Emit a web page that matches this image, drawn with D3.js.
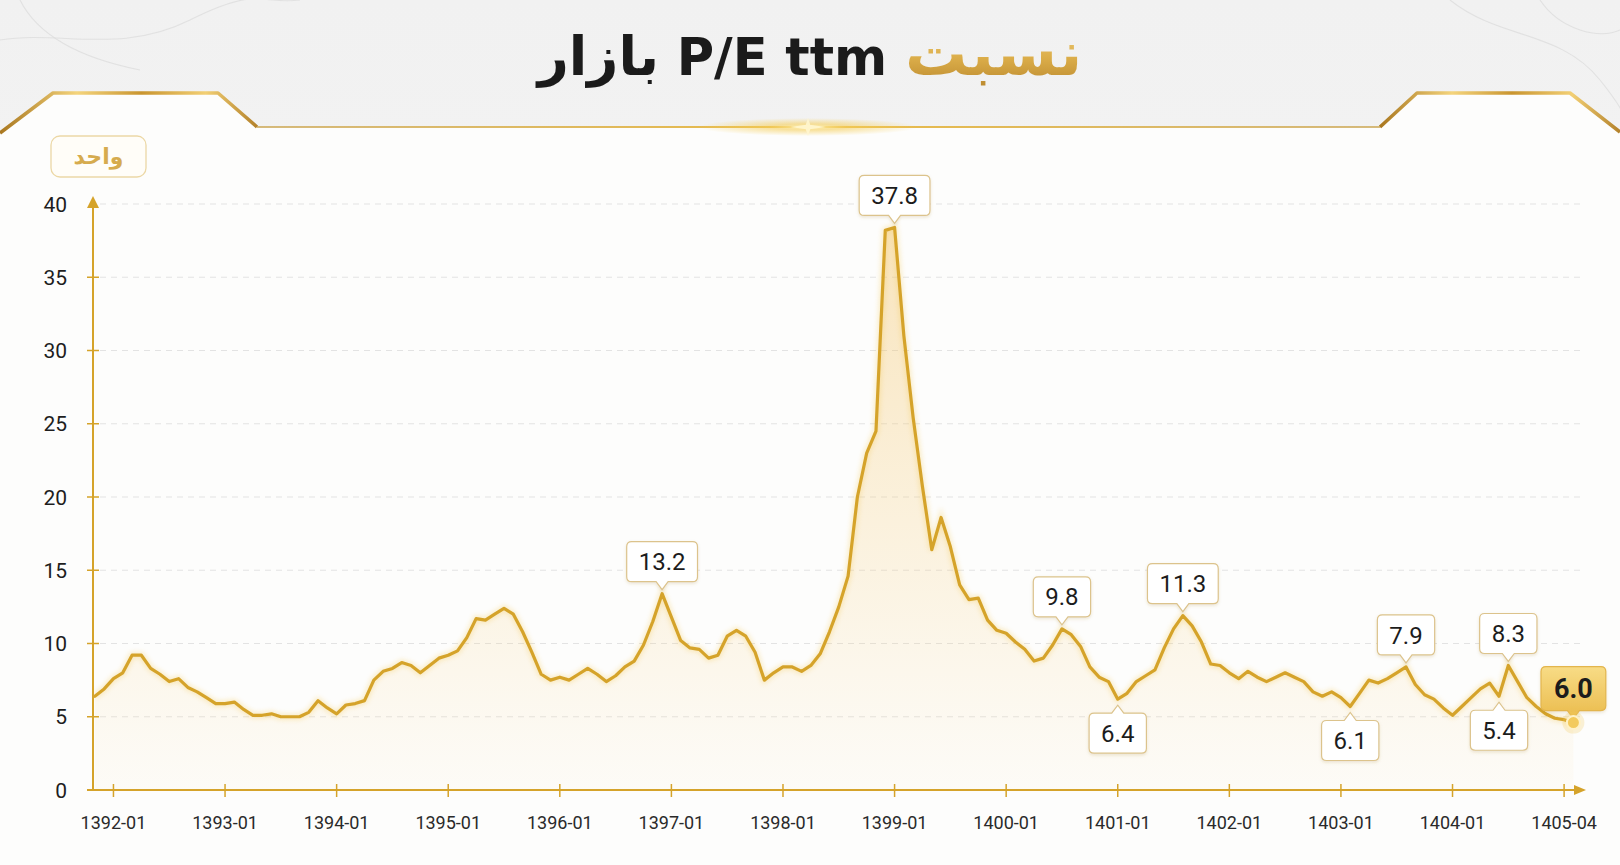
<!DOCTYPE html>
<html lang="fa">
<head>
<meta charset="utf-8">
<title>نسبت P/E ttm بازار</title>
<script src="https://cdn.jsdelivr.net/npm/d3@7"></script>
<style>
  html, body { margin: 0; padding: 0; background: #f3f3f3; }
  #wrap { position: relative; width: 1620px; height: 865px; overflow: hidden; }
  #chart { position: absolute; left: 0; top: 0; }
  #title {
    position: absolute; left: 0; top: 22px; width: 1620px;
    text-align: center; direction: rtl; white-space: nowrap;
    font-family: "DejaVu Sans", sans-serif; font-weight: 700;
    font-size: 51px; line-height: 64px; color: #1b1b1b;
  }
  #title .ar { font-size: 54px; }
  #title .gold {
    font-size: 62px;
    background: linear-gradient(180deg, #f3d78e 0%, #dcae4a 55%, #b8862c 100%);
    -webkit-background-clip: text; background-clip: text; color: transparent;
  }
</style>
</head>
<body>
<div id="wrap">
  <svg id="chart" width="1620" height="865"></svg>
  <div id="title"><span class="gold">نسبت</span> P/E ttm <span class="ar">بازار</span></div>
</div>
<script>
// monthly market P/E (ttm), first point is 1391-11
const firstMonth = '1391-11';
const peValues = [
  6.4, 6.9,                                                          // 1391
  7.6, 8.0, 9.2, 9.2, 8.3, 7.9, 7.4, 7.6, 7.0, 6.7, 6.3, 5.9,        // 1392
  5.9, 6.0, 5.5, 5.1, 5.1, 5.2, 5.0, 5.0, 5.0, 5.3, 6.1, 5.6,        // 1393
  5.2, 5.8, 5.9, 6.1, 7.5, 8.1, 8.3, 8.7, 8.5, 8.0, 8.5, 9.0,        // 1394
  9.2, 9.5, 10.4, 11.7, 11.6, 12.0, 12.4, 12.0, 10.8, 9.4, 7.9, 7.5, // 1395
  7.7, 7.5, 7.9, 8.3, 7.9, 7.4, 7.8, 8.4, 8.8, 9.9, 11.5, 13.4,      // 1396
  11.8, 10.2, 9.7, 9.6, 9.0, 9.2, 10.5, 10.9, 10.5, 9.4, 7.5, 8.0,   // 1397
  8.4, 8.4, 8.1, 8.5, 9.3, 10.8, 12.5, 14.6, 20.0, 23.0, 24.5, 38.2, // 1398
  38.4, 31.0, 25.4, 20.7, 16.4, 18.6, 16.6, 14.0, 13.0, 13.1, 11.6, 10.9, // 1399
  10.7, 10.1, 9.6, 8.8, 9.0, 9.9, 11.0, 10.6, 9.8, 8.4, 7.7, 7.4,    // 1400
  6.2, 6.6, 7.4, 7.8, 8.2, 9.7, 11.0, 11.9, 11.2, 10.1, 8.6, 8.5,    // 1401
  8.0, 7.6, 8.1, 7.7, 7.4, 7.7, 8.0, 7.7, 7.4, 6.7, 6.4, 6.7,        // 1402
  6.3, 5.7, 6.6, 7.5, 7.3, 7.6, 8.0, 8.4, 7.2, 6.5, 6.2, 5.6,        // 1403
  5.1, 5.7, 6.3, 6.9, 7.3, 6.4, 8.5, 7.4, 6.3, 5.7, 5.2, 4.9,        // 1404
  4.8, 4.6                                                           // 1405
];

const yTicks = [0, 5, 10, 15, 20, 25, 30, 35, 40];
const xTickDates = ['1392-01', '1393-01', '1394-01', '1395-01', '1396-01', '1397-01', '1398-01',
  '1399-01', '1400-01', '1401-01', '1402-01', '1403-01', '1404-01', '1405-01'];
const xTickLabels = ['1392-01', '1393-01', '1394-01', '1395-01', '1396-01', '1397-01', '1398-01',
  '1399-01', '1400-01', '1401-01', '1402-01', '1403-01', '1404-01', '1405-04'];

// value callouts as printed on the chart
const calloutDates = ['1396-12', '1399-01', '1400-07', '1401-01', '1401-08', '1403-02', '1403-08', '1404-06', '1404-07', '1405-02'];
const calloutTexts = ['13.2', '37.8', '9.8', '6.4', '11.3', '6.1', '7.9', '5.4', '8.3', '6.0'];
const calloutSides = ['up', 'up', 'up', 'down', 'up', 'down', 'up', 'down', 'up', 'last'];

const unitLabel = 'واحد';

const gold = '#d5a32a';
const monthIndex = s => { const [yy, mm] = s.split('-').map(Number); return (yy - 1392) * 12 + (mm - 1); };
const start = monthIndex(firstMonth);
const series = peValues.map((v, i) => ({ m: start + i, v }));
const byMonth = new Map(series.map(d => [d.m, d]));

const x = d3.scaleLinear().domain([-2.2, 159]).range([93, 1592]);
const y = d3.scaleLinear().domain([0, 40]).range([790, 204]);
const x0 = x(-2.2);
const xEnd = 1586;

const svg = d3.select('#chart');
const defs = svg.append('defs');

// ---- background, marble-ish top and white panel
const bg = defs.append('linearGradient').attr('id', 'bg').attr('x1', 0).attr('y1', 0).attr('x2', 0).attr('y2', 1);
bg.append('stop').attr('offset', 0).attr('stop-color', '#f1f1f1');
bg.append('stop').attr('offset', 1).attr('stop-color', '#f7f7f7');
svg.append('rect').attr('width', 1620).attr('height', 865).attr('fill', 'url(#bg)');

const veins = [
  'M0,40 C60,30 120,55 190,20 S260,5 300,0',
  'M20,0 C40,40 90,60 140,70',
  'M1450,0 C1500,40 1560,30 1600,80 S1620,120 1620,140',
  'M1540,0 C1560,30 1600,40 1620,30'
];
svg.append('g').selectAll('path').data(veins).join('path')
  .attr('d', d => d).attr('fill', 'none').attr('stroke', '#dadada').attr('stroke-width', 1.1).attr('opacity', 0.7);

const panelPts = [[0, 133], [53, 93], [218, 93], [257, 127], [1380, 127], [1417, 93], [1570, 93], [1620, 132], [1620, 865], [0, 865]];
svg.append('path').attr('d', 'M' + panelPts.join('L') + 'Z').attr('fill', '#fdfdfc');

// ---- gold frame
const metal = defs.append('linearGradient').attr('id', 'metal').attr('x1', 0).attr('y1', 0).attr('x2', 1).attr('y2', 0);
[['0', '#a9771f'], ['0.3', '#f4d47c'], ['0.55', '#c9952f'], ['0.8', '#f2cf74'], ['1', '#b3812a']]
  .forEach(([o, c]) => metal.append('stop').attr('offset', o).attr('stop-color', c));
const thin = defs.append('linearGradient').attr('id', 'thin').attr('gradientUnits', 'userSpaceOnUse')
  .attr('x1', 257).attr('y1', 0).attr('x2', 1380).attr('y2', 0);
[['0', '#caa552', 0.75], ['0.5', '#eabb45', 1], ['1', '#caa552', 0.75]]
  .forEach(([o, c, a]) => thin.append('stop').attr('offset', o).attr('stop-color', c).attr('stop-opacity', a));
const glow = defs.append('radialGradient').attr('id', 'glow');
glow.append('stop').attr('offset', 0).attr('stop-color', '#fff2b8').attr('stop-opacity', 1);
glow.append('stop').attr('offset', 0.35).attr('stop-color', '#f5cf5c').attr('stop-opacity', 0.6);
glow.append('stop').attr('offset', 1).attr('stop-color', '#f5cf5c').attr('stop-opacity', 0);

svg.append('path').attr('d', 'M0,133 L53,93 L218,93 L257,127')
  .attr('fill', 'none').attr('stroke', 'url(#metal)').attr('stroke-width', 3.5).attr('stroke-linejoin', 'round');
svg.append('path').attr('d', 'M1380,127 L1417,93 L1570,93 L1620,132')
  .attr('fill', 'none').attr('stroke', 'url(#metal)').attr('stroke-width', 3.5).attr('stroke-linejoin', 'round');
svg.append('line').attr('x1', 257).attr('x2', 1380).attr('y1', 127).attr('y2', 127)
  .attr('stroke', 'url(#thin)').attr('stroke-width', 1.8);
svg.append('ellipse').attr('cx', 808).attr('cy', 127).attr('rx', 110).attr('ry', 9).attr('fill', 'url(#glow)');
svg.append('path').attr('d', 'M808,118 L811,127 L808,136 L805,127 Z M790,127 L808,124.5 L826,127 L808,129.5 Z')
  .attr('fill', '#fff6cf').attr('opacity', 0.9);

// ---- unit badge
const badge = svg.append('g');
badge.append('rect').attr('x', 51).attr('y', 136).attr('width', 95).attr('height', 41).attr('rx', 9)
  .attr('fill', '#fffdf8').attr('stroke', '#ecd8a6').attr('stroke-width', 1.3);
badge.append('text').attr('x', 98.5).attr('y', 156).attr('dy', '0.35em')
  .attr('text-anchor', 'middle').attr('direction', 'rtl')
  .style('font-family', '"DejaVu Sans", sans-serif').style('font-size', '22px').style('font-weight', 700)
  .attr('fill', '#d6ab4e').text(unitLabel);

// ---- grid
svg.append('g').selectAll('line').data(yTicks.filter(d => d > 0)).join('line')
  .attr('x1', x0 + 7).attr('x2', 1583)
  .attr('y1', d => y(d)).attr('y2', d => y(d))
  .attr('stroke', '#e3e3e3').attr('stroke-width', 1).attr('stroke-dasharray', '6 5');

// ---- area + line
const fillGrad = defs.append('linearGradient').attr('id', 'areaFill')
  .attr('gradientUnits', 'userSpaceOnUse').attr('x1', 0).attr('y1', y(40)).attr('x2', 0).attr('y2', y(0));
fillGrad.append('stop').attr('offset', 0).attr('stop-color', '#f2c266').attr('stop-opacity', 0.45);
fillGrad.append('stop').attr('offset', 0.7).attr('stop-color', '#f5cc7a').attr('stop-opacity', 0.17);
fillGrad.append('stop').attr('offset', 1).attr('stop-color', '#f7d590').attr('stop-opacity', 0.05);

svg.append('path').datum(series)
  .attr('d', d3.area().x(d => x(d.m)).y0(y(0)).y1(d => y(d.v)))
  .attr('fill', 'url(#areaFill)');

const blur = defs.append('filter').attr('id', 'lineGlow').attr('x', '-5%').attr('y', '-5%').attr('width', '110%').attr('height', '110%');
blur.append('feGaussianBlur').attr('stdDeviation', 2.5);

const line = d3.line().x(d => x(d.m)).y(d => y(d.v));
svg.append('path').datum(series).attr('d', line)
  .attr('fill', 'none').attr('stroke', '#f3c95a').attr('stroke-width', 6).attr('opacity', 0.35)
  .attr('filter', 'url(#lineGlow)');
svg.append('path').datum(series).attr('d', line)
  .attr('fill', 'none').attr('stroke', gold).attr('stroke-width', 3.2)
  .attr('stroke-linejoin', 'round').attr('stroke-linecap', 'round');

// ---- axes
const ax = svg.append('g').attr('stroke', gold).attr('stroke-width', 2);
ax.append('line').attr('x1', x0).attr('x2', x0).attr('y1', y(0)).attr('y2', 200);
ax.append('line').attr('x1', 87).attr('x2', xEnd - 8).attr('y1', y(0)).attr('y2', y(0));
svg.append('path').attr('fill', gold)
  .attr('d', `M${x0 - 6},${208} L${x0},${196} L${x0 + 6},${208} Z`);
svg.append('path').attr('fill', gold)
  .attr('d', `M${xEnd - 12},${y(0) - 5} L${xEnd},${y(0)} L${xEnd - 12},${y(0) + 5} Z`);

ax.selectAll('.yt').data(yTicks.filter(d => d > 0 && d < 40)).join('line')
  .attr('x1', x0 - 6).attr('x2', x0 + 6)
  .attr('y1', d => y(d)).attr('y2', d => y(d)).attr('stroke-width', 1.5);
ax.selectAll('.xt').data(xTickDates).join('line')
  .attr('x1', d => x(monthIndex(d))).attr('x2', d => x(monthIndex(d)))
  .attr('y1', y(0) - 6).attr('y2', y(0) + 7).attr('stroke-width', 1.5);

svg.append('g').selectAll('text').data(yTicks).join('text')
  .attr('x', 67).attr('y', d => y(d)).attr('dy', '0.36em').attr('text-anchor', 'end')
  .style('font-family', 'Roboto, sans-serif').style('font-size', '21px')
  .attr('fill', '#1e1e1e').text(d => d);

svg.append('g').selectAll('text').data(xTickDates).join('text')
  .attr('x', d => x(monthIndex(d))).attr('y', 829).attr('text-anchor', 'middle')
  .style('font-family', 'Roboto, sans-serif').style('font-size', '18px')
  .attr('fill', '#2a2a2a').text((d, i) => xTickLabels[i]);

// ---- callouts
const shadow = defs.append('filter').attr('id', 'boxShadow').attr('x', '-20%').attr('y', '-20%').attr('width', '140%').attr('height', '150%');
shadow.append('feDropShadow').attr('dx', 0).attr('dy', 1.5).attr('stdDeviation', 1.8)
  .attr('flood-color', '#9a7320').attr('flood-opacity', 0.18);

const lastGrad = defs.append('linearGradient').attr('id', 'lastFill').attr('x1', 0).attr('y1', 0).attr('x2', 0).attr('y2', 1);
lastGrad.append('stop').attr('offset', 0).attr('stop-color', '#f8dc86');
lastGrad.append('stop').attr('offset', 1).attr('stop-color', '#eabb4c');

function calloutPath(cx, top, w, h, r, side, p) {
  const l = cx - w / 2, rt = cx + w / 2, b = top + h, pw = 6;
  const topEdge = side === 'down'
    ? `L${cx - pw},${top} L${cx},${top - p} L${cx + pw},${top} `
    : '';
  const bottomEdge = side === 'down'
    ? ''
    : `L${cx + pw},${b} L${cx},${b + p} L${cx - pw},${b} `;
  return `M${l + r},${top} ${topEdge}L${rt - r},${top} Q${rt},${top} ${rt},${top + r} ` +
    `L${rt},${b - r} Q${rt},${b} ${rt - r},${b} ${bottomEdge}L${l + r},${b} ` +
    `Q${l},${b} ${l},${b - r} L${l},${top + r} Q${l},${top} ${l + r},${top} Z`;
}

const cg = svg.append('g');
calloutDates.forEach((date, i) => {
  const pt = byMonth.get(monthIndex(date));
  const px = x(pt.m), py = y(pt.v);
  const side = calloutSides[i];
  const isLast = side === 'last';
  const g = cg.append('g');
  const path = g.append('path');
  const t = g.append('text').attr('text-anchor', 'middle')
    .style('font-family', 'Roboto, sans-serif')
    .style('font-size', isLast ? '27px' : '24px')
    .style('font-weight', isLast ? 700 : 400)
    .attr('fill', '#1c1c1c').text(calloutTexts[i]);
  const w = t.node().getComputedTextLength() + (isLast ? 26 : 24);
  const h = isLast ? 44 : 40;
  const top = side === 'down' ? py + 14 : py - 12 - h;
  path.attr('d', calloutPath(px, top, w, h, 5, side === 'down' ? 'down' : 'up', 8))
    .attr('fill', isLast ? 'url(#lastFill)' : '#ffffff')
    .attr('stroke', isLast ? '#e3b54d' : '#dcc38c').attr('stroke-width', 1.2)
    .attr('filter', 'url(#boxShadow)');
  t.attr('x', px).attr('y', top + h / 2).attr('dy', '0.36em');
  if (isLast) {
    cg.append('circle').attr('cx', px).attr('cy', py).attr('r', 11).attr('fill', '#f3ca5c').attr('opacity', 0.25);
    cg.append('circle').attr('cx', px).attr('cy', py).attr('r', 6.5)
      .attr('fill', '#f3ca5c').attr('stroke', '#fff1c6').attr('stroke-width', 2);
  }
});
</script>
</body>
</html>
